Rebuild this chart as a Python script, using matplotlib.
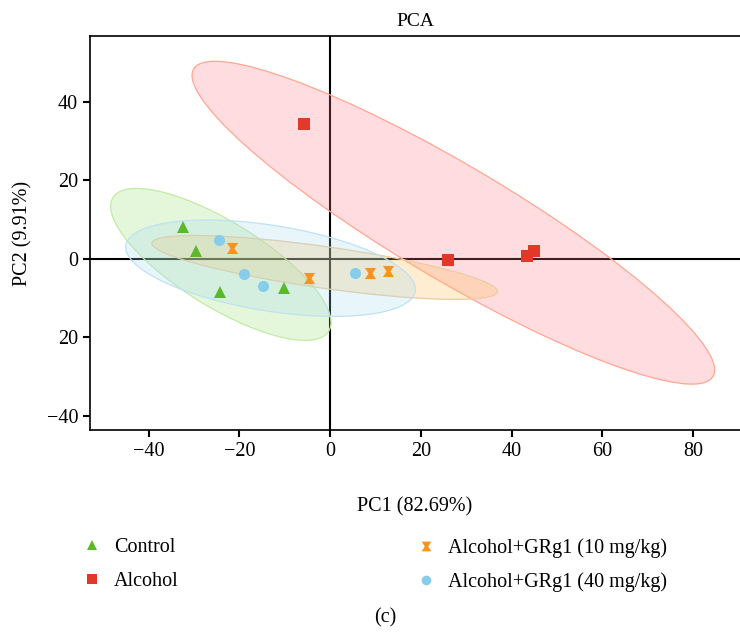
import numpy as np
import matplotlib
matplotlib.use("Agg")
import matplotlib.pyplot as plt
from matplotlib.patches import Ellipse
from matplotlib.path import Path
from matplotlib.lines import Line2D

plt.rcParams['font.family'] = ['Liberation Serif', 'DejaVu Serif']

# PCA scores
groups = ["Control", "Alcohol", "Alcohol+GRg1 (10 mg/kg)", "Alcohol+GRg1 (40 mg/kg)"]
control_pc1 = [-32.4, -29.6, -24.2, -10.1]
control_pc2 = [8.1, 2.1, -8.5, -7.3]
alcohol_pc1 = [-5.7, 26.0, 43.4, 44.9]
alcohol_pc2 = [34.4, -0.25, 0.76, 2.0]
grg10_pc1 = [-21.7, -4.6, 8.7, 12.8]
grg10_pc2 = [2.7, -4.8, -3.5, -3.1]
grg40_pc1 = [-24.4, -18.9, -14.7, 5.5]
grg40_pc2 = [4.8, -3.9, -6.9, -3.5]

xticks = [-40, -20, 0, 20, 40, 60, 80]
yticks = [40, 20, 0, -20, -40]
ytick_labels = ["40", "20", "0", "20", "\u221240"]

hourglass = Path([(-1, 1), (1, 1), (0.35, 0), (1, -1), (-1, -1), (-0.35, 0), (-1, 1)],
                 [Path.MOVETO] + [Path.LINETO] * 5 + [Path.CLOSEPOLY])

styles = [
    # marker, point colour, ellipse fill, ellipse edge
    ("^", "#5BB82B", "#9BE373", "#C2EBA6"),
    ("s", "#E2382A", "#FF7783", "#FFA690"),
    (hourglass, "#F7931E", "#FFBB4B", "#E8CDA0"),
    ("o", "#87CDEB", "#A5DAF2", "#BEE2F2"),
]
data = [(control_pc1, control_pc2), (alcohol_pc1, alcohol_pc2),
        (grg10_pc1, grg10_pc2), (grg40_pc1, grg40_pc2)]
msizes = [8.5, 8, 8, 8]


def conf_ellipse(x, y, **kw):
    # 95% normal ellipse from the sample covariance
    x = np.asarray(x)
    y = np.asarray(y)
    cov = np.cov(x, y)
    vals, vecs = np.linalg.eigh(cov)
    order = vals.argsort()[::-1]
    vals, vecs = vals[order], vecs[:, order]
    ang = np.degrees(np.arctan2(vecs[1, 0], vecs[0, 0]))
    k = np.sqrt(5.991)
    return Ellipse((x.mean(), y.mean()), 2 * k * np.sqrt(vals[0]),
                   2 * k * np.sqrt(vals[1]), angle=ang, **kw)


fig = plt.figure(figsize=(7.4, 6.37), dpi=100)
ax = fig.add_axes([90 / 740, 1 - 430 / 637, 650 / 740, 394 / 637])

ax.axhline(0, color="black", lw=1.5, zorder=1)
ax.axvline(0, color="black", lw=1.5, zorder=1)

for (x, y), (m, c, fc, ec) in zip(data, styles):
    e = conf_ellipse(x, y, facecolor=fc, edgecolor="none", alpha=0.25, zorder=2)
    ax.add_patch(e)
    e2 = conf_ellipse(x, y, facecolor="none", edgecolor=ec, lw=0.9, zorder=2)
    ax.add_patch(e2)

handles = []
for (x, y), (m, c, fc, ec), ms, name in zip(data, styles, msizes, groups):
    ax.plot(x, y, linestyle="none", marker=m, color=c, markersize=ms,
            markeredgewidth=0, zorder=3)
    handles.append(Line2D([], [], linestyle="none", marker=m, color=c,
                          markersize=7, markeredgewidth=0, label=name))

ax.set_xlim(-52.9, 90.3)
ax.set_ylim(-43.6, 56.8)
ax.set_xticks(xticks)
ax.set_xticklabels([str(t).replace("-", "\u2212") for t in xticks])
ax.set_yticks(yticks)
ax.set_yticklabels(ytick_labels)
ax.tick_params(direction="out", length=5, width=1.5, labelsize=14.5, colors="black")
ax.spines["right"].set_visible(False)
for s in ["left", "top", "bottom"]:
    ax.spines[s].set_linewidth(1.2)

ax.set_title("PCA", fontsize=14, pad=7)
ax.set_xlabel("PC1 (82.69%)", fontsize=14.5, labelpad=26)
ax.set_ylabel("PC2 (9.91%)", fontsize=14.5, labelpad=10)

leg_kw = dict(frameon=False, fontsize=14.5, handletextpad=0.6, labelspacing=0.72,
              handlelength=1.0, borderaxespad=0, borderpad=0)
fig.legend(handles=[handles[0], handles[1]], loc="upper left",
           bbox_to_anchor=(82 / 740, 1 - 538 / 637), **leg_kw)
fig.legend(handles=[handles[2], handles[3]], loc="upper left",
           bbox_to_anchor=(416 / 740, 1 - 538 / 637), **leg_kw)

fig.text(385 / 740, 1 - 618 / 637, "(c)", ha="center", va="center", fontsize=14.5)

fig.savefig("out.png", dpi=100)
